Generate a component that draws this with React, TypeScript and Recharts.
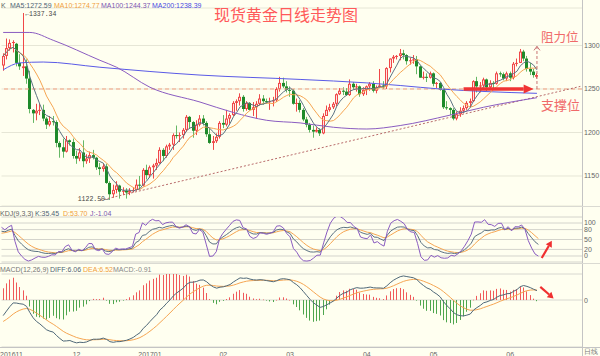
import React from 'react';
import { ComposedChart, Bar, Line, XAxis, YAxis, CartesianGrid, ReferenceLine, ReferenceDot } from 'recharts';

type OHLC = [number, number, number, number]; // open, high, low, close

const nov2016: OHLC[] = [
  [1277, 1291, 1271, 1288], [1288, 1308, 1284, 1297], [1297, 1307, 1294, 1303], [1303, 1306, 1292, 1304],
  [1302, 1303, 1276, 1280], [1280, 1290, 1272, 1276], [1274, 1337.34, 1265, 1276], [1276, 1284, 1256, 1262],
  [1262, 1271, 1222, 1227], [1226, 1227, 1211, 1222], [1222, 1233, 1214, 1225], [1225, 1233, 1220, 1226],
  [1226, 1232, 1213, 1216], [1216, 1218, 1204, 1209], [1209, 1219, 1207, 1213], [1213, 1219, 1208, 1212],
  [1212, 1214, 1183, 1188], [1188, 1190, 1171, 1183], [1183, 1193, 1171, 1178], [1178, 1196, 1177, 1191],
  [1191, 1192, 1185, 1189], [1189, 1193, 1170, 1173],
];
const dec2016: OHLC[] = [
  [1173, 1179, 1164, 1170], [1170, 1182, 1167, 1177], [1177, 1191, 1160, 1167], [1167, 1175, 1164, 1170],
  [1170, 1178, 1165, 1174], [1174, 1180, 1169, 1171], [1171, 1172, 1157, 1160], [1160, 1165, 1151, 1158],
  [1158, 1164, 1155, 1161], [1161, 1164, 1141, 1142], [1142, 1144, 1122.5, 1129], [1129, 1140, 1125, 1134],
  [1134, 1144, 1130, 1139], [1139, 1140, 1124, 1132], [1132, 1137, 1128, 1133], [1133, 1136, 1124, 1131],
  [1131, 1136, 1128, 1133], [1133, 1137, 1131, 1134], [1134, 1146, 1133, 1140], [1140, 1150, 1135, 1139],
  [1139, 1159, 1138, 1157], [1157, 1163, 1146, 1151],
];
const jan2017: OHLC[] = [
  [1151, 1162, 1148, 1160], [1160, 1164, 1147, 1162], [1162, 1170, 1157, 1165], [1165, 1183, 1164, 1180],
  [1180, 1182, 1167, 1173], [1173, 1186, 1171, 1184], [1184, 1188, 1180, 1186], [1186, 1199, 1180, 1197],
  [1197, 1208, 1193, 1196], [1196, 1200, 1189, 1197], [1197, 1205, 1193, 1203], [1203, 1220, 1201, 1218],
  [1218, 1219, 1204, 1212], [1212, 1213, 1194, 1202], [1202, 1214, 1197, 1209], [1209, 1220, 1207, 1216],
  [1216, 1220, 1208, 1211], [1211, 1213, 1195, 1198], [1198, 1204, 1187, 1188], [1188, 1196, 1180, 1190],
  [1190, 1199, 1188, 1195], [1195, 1213, 1193, 1211],
];
const feb2017: OHLC[] = [
  [1211, 1220, 1205, 1209], [1209, 1226, 1207, 1216], [1216, 1222, 1210, 1220], [1220, 1236, 1219, 1234],
  [1234, 1238, 1225, 1236], [1236, 1245, 1231, 1241], [1241, 1243, 1224, 1227], [1227, 1236, 1225, 1234],
  [1234, 1235, 1225, 1226], [1226, 1235, 1219, 1229], [1229, 1236, 1216, 1233], [1233, 1244, 1231, 1239],
  [1239, 1243, 1232, 1236], [1236, 1239, 1233, 1235], [1235, 1240, 1226, 1236], [1236, 1241, 1230, 1237],
  [1237, 1252, 1235, 1250], [1250, 1264, 1247, 1257], [1257, 1263, 1251, 1253], [1253, 1259, 1246, 1249],
];
const mar2017: OHLC[] = [
  [1249, 1253, 1241, 1248], [1248, 1250, 1232, 1233], [1233, 1239, 1224, 1234], [1234, 1237, 1223, 1226],
  [1226, 1228, 1213, 1215], [1215, 1218, 1206, 1209], [1209, 1211, 1200, 1203], [1203, 1208, 1194, 1201],
  [1201, 1206, 1200, 1203], [1203, 1205, 1196, 1199], [1199, 1222, 1198, 1219], [1219, 1231, 1219, 1226],
  [1226, 1233, 1224, 1229], [1229, 1235, 1227, 1233], [1233, 1245, 1230, 1244], [1244, 1251, 1243, 1248],
  [1248, 1252, 1243, 1247], [1247, 1251, 1242, 1243], [1243, 1261, 1242, 1256], [1256, 1258, 1249, 1252],
  [1252, 1256, 1247, 1253], [1253, 1254, 1241, 1244], [1244, 1252, 1242, 1249],
];
const apr2017: OHLC[] = [
  [1249, 1254, 1243, 1253], [1253, 1258, 1248, 1256], [1256, 1259, 1246, 1248], [1248, 1254, 1245, 1252],
  [1252, 1273, 1251, 1254], [1254, 1259, 1250, 1253], [1253, 1275, 1250, 1274], [1274, 1285, 1269, 1285],
  [1285, 1289, 1280, 1287], [1287, 1289, 1284, 1288], [1288, 1296, 1283, 1291], [1291, 1295, 1284, 1289],
  [1289, 1290, 1278, 1282], [1282, 1286, 1278, 1283], [1283, 1289, 1279, 1284], [1284, 1288, 1267, 1276],
  [1276, 1277, 1263, 1263], [1263, 1270, 1261, 1264], [1264, 1268, 1258, 1263], [1263, 1270, 1262, 1268],
];
const may2017: OHLC[] = [
  [1268, 1269, 1253, 1256], [1256, 1258, 1251, 1257], [1257, 1258, 1248, 1249], [1249, 1250, 1227, 1229],
  [1229, 1236, 1226, 1228], [1228, 1229, 1220, 1226], [1226, 1228, 1214, 1216], [1216, 1224, 1214, 1221],
  [1221, 1229, 1218, 1225], [1225, 1231, 1222, 1228], [1228, 1236, 1226, 1234], [1234, 1239, 1229, 1236],
  [1236, 1260, 1235, 1259], [1259, 1264, 1246, 1253], [1253, 1258, 1246, 1254], [1254, 1263, 1252, 1261],
  [1261, 1262, 1247, 1252], [1252, 1260, 1250, 1257], [1257, 1259, 1250, 1256], [1256, 1270, 1255, 1268],
  [1268, 1270, 1264, 1267], [1267, 1269, 1260, 1262], [1262, 1270, 1259, 1268],
];
const jun2017: OHLC[] = [
  [1268, 1270, 1259, 1263], [1263, 1281, 1261, 1279], [1279, 1285, 1276, 1280], [1280, 1296, 1280, 1293],
  [1293, 1295, 1282, 1285], [1285, 1288, 1270, 1273], [1273, 1280, 1266, 1270], [1270, 1273, 1263, 1266],
  [1264, 1268, 1262, 1266],
];

// Long moving averages (bar index, value)
const ma100Readings: [number, number][] = [
  [0, 1315], [8, 1315], [15, 1306], [29, 1283], [34, 1275], [44, 1252], [59, 1235], [69, 1223],
  [79, 1214], [89, 1211], [99, 1206], [109, 1204], [119, 1208], [134, 1220], [144, 1229], [160, 1240],
];
const ma200Readings: [number, number][] = [
  [0, 1272], [5, 1280], [12, 1281], [29, 1275], [59, 1266], [89, 1261], [109, 1257], [119, 1254],
  [131, 1250], [145, 1247], [160, 1245],
];

const monthTickIndex = [0, 22, 44, 66, 86, 109, 129, 152];
const monthLabels = ['201611', '12', '201701', '02', '03', '04', '05', '06'];
const priceTicks = [1150, 1200, 1250, 1300];
const kdjTicks = [0, 20, 50, 80, 100];
const macdTicks = [0];

const mainLegend = [
  { text: 'K', color: '#666666', x: 1 },
  { text: 'MA5:1272.59', color: '#4f6474', x: 10 },
  { text: 'MA10:1274.77', color: '#f0a040', x: 54 },
  { text: 'MA100:1244.37', color: '#7a55b0', x: 101 },
  { text: 'MA200:1238.39', color: '#4a4ae0', x: 152 },
];
const kdjLegend = [
  { text: 'KDJ(9,3,3)', color: '#666666', x: 0 },
  { text: 'K:35.45', color: '#4f6474', x: 35 },
  { text: 'D:53.70', color: '#f0a040', x: 63 },
  { text: 'J:-1.04', color: '#7a55b0', x: 90 },
];
const macdLegend = [
  { text: 'MACD(12,26,9)', color: '#777777', x: 0 },
  { text: 'DIFF:6.06', color: '#4f6474', x: 50 },
  { text: 'DEA:6.52', color: '#f0a040', x: 83 },
  { text: 'MACD:-0.91', color: '#888888', x: 113 },
];

const SLOTS = 174;
const macdSeed = { ema12: 1268, ema26: 1280, dea: -14 };
const kdjSeed = { k: 70, d: 66 };

const candles: OHLC[] = [...nov2016, ...dec2016, ...jan2017, ...feb2017, ...mar2017, ...apr2017, ...may2017, ...jun2017];
const closes = candles.map((c) => c[3]);
const avg = (n: number, i: number) => {
  const s = Math.max(0, i - n + 1);
  let t = 0;
  for (let q = s; q <= i; q++) t += closes[q];
  return t / (i - s + 1);
};
const ma100Map = new Map(ma100Readings);
const ma200Map = new Map(ma200Readings);

const rows: any[] = [];
{
  let k = kdjSeed.k, d = kdjSeed.d;
  let e12 = macdSeed.ema12, e26 = macdSeed.ema26, dea = macdSeed.dea;
  for (let i = 0; i < SLOTS; i++) {
    if (i >= candles.length) { rows.push({ i }); continue; }
    const [o, h, l, c] = candles[i];
    const s = Math.max(0, i - 8);
    let hh = -Infinity, ll = Infinity;
    for (let q = s; q <= i; q++) { hh = Math.max(hh, candles[q][1]); ll = Math.min(ll, candles[q][2]); }
    const rsv = hh === ll ? 50 : ((c - ll) / (hh - ll)) * 100;
    k = (2 * k + rsv) / 3;
    d = (2 * d + k) / 3;
    const j = 3 * k - 2 * d;
    e12 += ((c - e12) * 2) / 13;
    e26 += ((c - e26) * 2) / 27;
    const diff = e12 - e26;
    dea += ((diff - dea) * 2) / 10;
    rows.push({
      i, open: o, high: h, low: l, close: c, range: [l, h],
      ma5: avg(5, i), ma10: avg(10, i),
      ma100: ma100Map.has(i) ? ma100Map.get(i) : null,
      ma200: ma200Map.has(i) ? ma200Map.get(i) : null,
      k, d, j, diff, dea, hist: 2 * (diff - dea),
    });
  }
}

function Candle(props: any) {
  const { x, y, width, height, payload } = props;
  if (!payload || payload.open == null || !Number.isFinite(y) || !Number.isFinite(height)) return null;
  const { open, close, high, low } = payload;
  const top0 = Math.min(y, y + height);
  const h0 = Math.abs(height);
  const ratio = h0 / (high - low);
  const px = Math.floor(x + width / 2);
  const bodyTop = top0 + (high - Math.max(open, close)) * ratio;
  const bodyBot = top0 + (high - Math.min(open, close)) * ratio;
  const up = close >= open;
  const bh = Math.max(bodyBot - bodyTop, 1);
  if (up) {
    return (
      <g>
        <line x1={px + 0.5} x2={px + 0.5} y1={top0} y2={top0 + h0} stroke="#f04848" strokeWidth={1} />
        <rect x={px - 1} y={bodyTop} width={3} height={bh} fill="#f04848" />
        {bh > 2 && <rect x={px} y={bodyTop + 1} width={1} height={bh - 2} fill="#ffe4e4" />}
      </g>
    );
  }
  return (
    <g>
      <line x1={px + 0.5} x2={px + 0.5} y1={top0} y2={top0 + h0} stroke="#66b866" strokeWidth={1} />
      <rect x={px - 1} y={bodyTop} width={3} height={bh} fill="#1e8a2a" />
    </g>
  );
}

function HistBar(props: any) {
  const { x, y, width, height, payload } = props;
  if (!payload || payload.hist == null || !Number.isFinite(y) || !Number.isFinite(height)) return null;
  const px = Math.floor(x + width / 2);
  const t = Math.min(y, y + height);
  const h = Math.max(Math.abs(height), 0.6);
  return <rect x={px} y={t} width={1} height={h} fill={payload.hist >= 0 ? '#f05a5a' : '#4ea64e'} />;
}

const makeArrow = (color: string, lineWidth: number, headLen: number, headHalf: number, open = false, dash?: string) =>
  (props: any) => {
    const { x1, y1, x2, y2 } = props;
    if (![x1, y1, x2, y2].every((v) => Number.isFinite(v))) return null;
    const dx = x2 - x1, dy = y2 - y1;
    const len = Math.hypot(dx, dy) || 1;
    const ux = dx / len, uy = dy / len;
    const bx = x2 - ux * headLen, by = y2 - uy * headLen;
    const px = -uy * headHalf, py = ux * headHalf;
    return (
      <g>
        <line x1={x1} y1={y1} x2={open ? x2 : bx} y2={open ? y2 : by} stroke={color} strokeWidth={lineWidth} strokeDasharray={dash} />
        {open ? (
          <polyline points={`${bx + px},${by + py} ${x2},${y2} ${bx - px},${by - py}`} fill="none" stroke={color} strokeWidth={1} />
        ) : (
          <polygon points={`${x2},${y2} ${bx + px},${by + py} ${bx - px},${by - py}`} fill={color} />
        )}
      </g>
    );
  };

const bigArrow = makeArrow('#f03434', 3.5, 10, 4.5);
const upDashedArrow = makeArrow('#c87272', 1, 4, 3, true, '3 2');
const smallRedArrow = makeArrow('#f03030', 2.2, 6, 3.5);

const MonthTick = (props: any) => {
  const { x, y, payload } = props;
  const idx = monthTickIndex.indexOf(payload.value);
  if (idx < 0) return null;
  const first = idx === 0;
  return (
    <text x={first ? 0 : x} y={y + 7.5} textAnchor={first ? 'start' : 'middle'} fontSize={7} fill="#666">
      {monthLabels[idx]}
    </text>
  );
};

const axisTick = { fontSize: 7, fill: '#666' };
const lineCommon = { dot: false, isAnimationActive: false, strokeWidth: 1, activeDot: false } as const;

export default function App() {
  const legendRow = (items: { text: string; color: string; x: number }[], top: number) =>
    items.map((it) => (
      <div key={it.text} style={{ position: 'absolute', left: it.x, top, fontSize: 7, lineHeight: '9px', color: it.color, whiteSpace: 'nowrap' }}>
        {it.text}
      </div>
    ));

  return (
    <div style={{ position: 'fixed', left: 0, top: 0, width: 600, height: 356, background: '#fffff0', overflow: 'hidden', fontFamily: '"Liberation Sans", Arial, sans-serif' }}>
      {/* main price panel */}
      <div style={{ position: 'absolute', left: 0, top: 0 }}>
        <ComposedChart width={600} height={206} data={rows} margin={{ top: 8, right: 0, bottom: 0, left: 1.5 }} barCategoryGap={0}>
          <CartesianGrid vertical={false} stroke="#e6e6d6" />
          <XAxis dataKey="i" type="category" hide />
          <YAxis orientation="right" domain={[1115.5, 1343.1]} ticks={priceTicks} allowDataOverflow width={18}
            tick={axisTick} tickLine={false} axisLine={false} tickSize={0} tickMargin={2} interval={0} />
          <ReferenceLine y={1250} stroke="#f2a080" strokeDasharray="4 3" />
          <ReferenceLine segment={[{ x: 29, y: 1122 }, { x: 173, y: 1253 }]} stroke="#b86a6a" strokeDasharray="2 2" ifOverflow="visible" />
          <Line dataKey="ma200" stroke="#5a5ae6" connectNulls type="monotone" {...lineCommon} />
          <Line dataKey="ma100" stroke="#8a5cc0" connectNulls type="monotone" {...lineCommon} />
          <Bar dataKey="range" shape={Candle} isAnimationActive={false} />
          <Line dataKey="ma10" stroke="#f5a552" type="linear" {...lineCommon} />
          <Line dataKey="ma5" stroke="#5c7282" type="linear" {...lineCommon} />
          <ReferenceLine segment={[{ x: 138, y: 1250 }, { x: 159, y: 1250 }]} shape={bigArrow} ifOverflow="visible" />
          <ReferenceLine segment={[{ x: 160, y: 1250 }, { x: 160, y: 1299 }]} shape={upDashedArrow} ifOverflow="visible" />
          <ReferenceDot x={6} y={1337.34} r={0} ifOverflow="visible"
            shape={(p: any) => <text x={p.cx + 2} y={p.cy + 3} fontSize={6.5} fontFamily='"Liberation Mono", monospace' fill="#444">←1337.34</text>} />
          <ReferenceDot x={32} y={1122.5} r={0} ifOverflow="visible"
            shape={(p: any) => <text x={p.cx - 1} y={p.cy + 1} textAnchor="end" fontSize={6.5} fontFamily='"Liberation Mono", monospace' fill="#444">1122.50—</text>} />
        </ComposedChart>
      </div>

      {/* KDJ panel */}
      <div style={{ position: 'absolute', left: 0, top: 207 }}>
        <ComposedChart width={600} height={56} data={rows} margin={{ top: 10, right: 0, bottom: 1, left: 1.5 }}>
          <CartesianGrid vertical={false} stroke="#d4d4cc" />
          <XAxis dataKey="i" type="category" hide />
          <YAxis orientation="right" domain={[-18.2, 118.2]} ticks={kdjTicks} allowDataOverflow width={18}
            tick={axisTick} tickLine={false} axisLine={false} tickSize={0} tickMargin={2} interval={0} />
          <Line dataKey="d" stroke="#f5a552" type="linear" {...lineCommon} />
          <Line dataKey="k" stroke="#5c7282" type="linear" {...lineCommon} />
          <Line dataKey="j" stroke="#8a5cc0" type="linear" {...lineCommon} />
          <ReferenceLine segment={[{ x: 161, y: -6 }, { x: 164, y: 46 }]} shape={smallRedArrow} ifOverflow="visible" />
        </ComposedChart>
      </div>

      {/* MACD panel */}
      <div style={{ position: 'absolute', left: 0, top: 264 }}>
        <ComposedChart width={600} height={92} data={rows} margin={{ top: 10, right: 0, bottom: 0, left: 1.5 }} barCategoryGap={0}>
          <CartesianGrid vertical={false} stroke="#d8d8d0" />
          <XAxis dataKey="i" type="category" height={9} ticks={monthTickIndex} interval={0} tick={MonthTick}
            tickLine={false} tickSize={0} axisLine={false} />
          <YAxis orientation="right" domain={[-28.7, 15.9]} ticks={macdTicks} allowDataOverflow width={18}
            tick={axisTick} tickLine={false} axisLine={false} tickSize={0} tickMargin={2} interval={0} />
          <Bar dataKey="hist" shape={HistBar} isAnimationActive={false} />
          <Line dataKey="dea" stroke="#f5a552" type="linear" {...lineCommon} />
          <Line dataKey="diff" stroke="#4f6878" type="linear" {...lineCommon} />
          <ReferenceLine segment={[{ x: 161, y: 8 }, { x: 165, y: 1 }]} shape={smallRedArrow} ifOverflow="visible" />
        </ComposedChart>
      </div>

      {/* frame lines */}
      <div style={{ position: 'absolute', left: 582, top: 0, width: 1, height: 356, background: '#c4c4c4' }} />
      <div style={{ position: 'absolute', left: 0, top: 206, width: 600, height: 1, background: '#dadad2' }} />
      <div style={{ position: 'absolute', left: 0, top: 263, width: 600, height: 1, background: '#dadad2' }} />
      <div style={{ position: 'absolute', left: 0, top: 347, width: 600, height: 1, background: '#c4c4c4' }} />
      <div style={{ position: 'absolute', left: 584, top: 348, fontSize: 7, lineHeight: '8px', color: '#777' }}>日线</div>

      {legendRow(mainLegend, 1)}
      {legendRow(kdjLegend, 209)}
      {legendRow(macdLegend, 265)}

      <div style={{ position: 'absolute', left: 214, top: 4, fontSize: 16, lineHeight: '20px', color: '#ff5a5a', fontFamily: '"Noto Sans CJK SC", sans-serif', whiteSpace: 'nowrap' }}>
        现货黄金日线走势图
      </div>
      <div style={{ position: 'absolute', left: 541, top: 29, fontSize: 12.5, lineHeight: '16px', color: '#f06a6a', fontFamily: '"Noto Sans CJK SC", sans-serif', whiteSpace: 'nowrap' }}>
        阻力位
      </div>
      <div style={{ position: 'absolute', left: 541, top: 97, fontSize: 13, lineHeight: '16px', color: '#f06a6a', fontFamily: '"Noto Sans CJK SC", sans-serif', whiteSpace: 'nowrap' }}>
        支撑位
      </div>
    </div>
  );
}
